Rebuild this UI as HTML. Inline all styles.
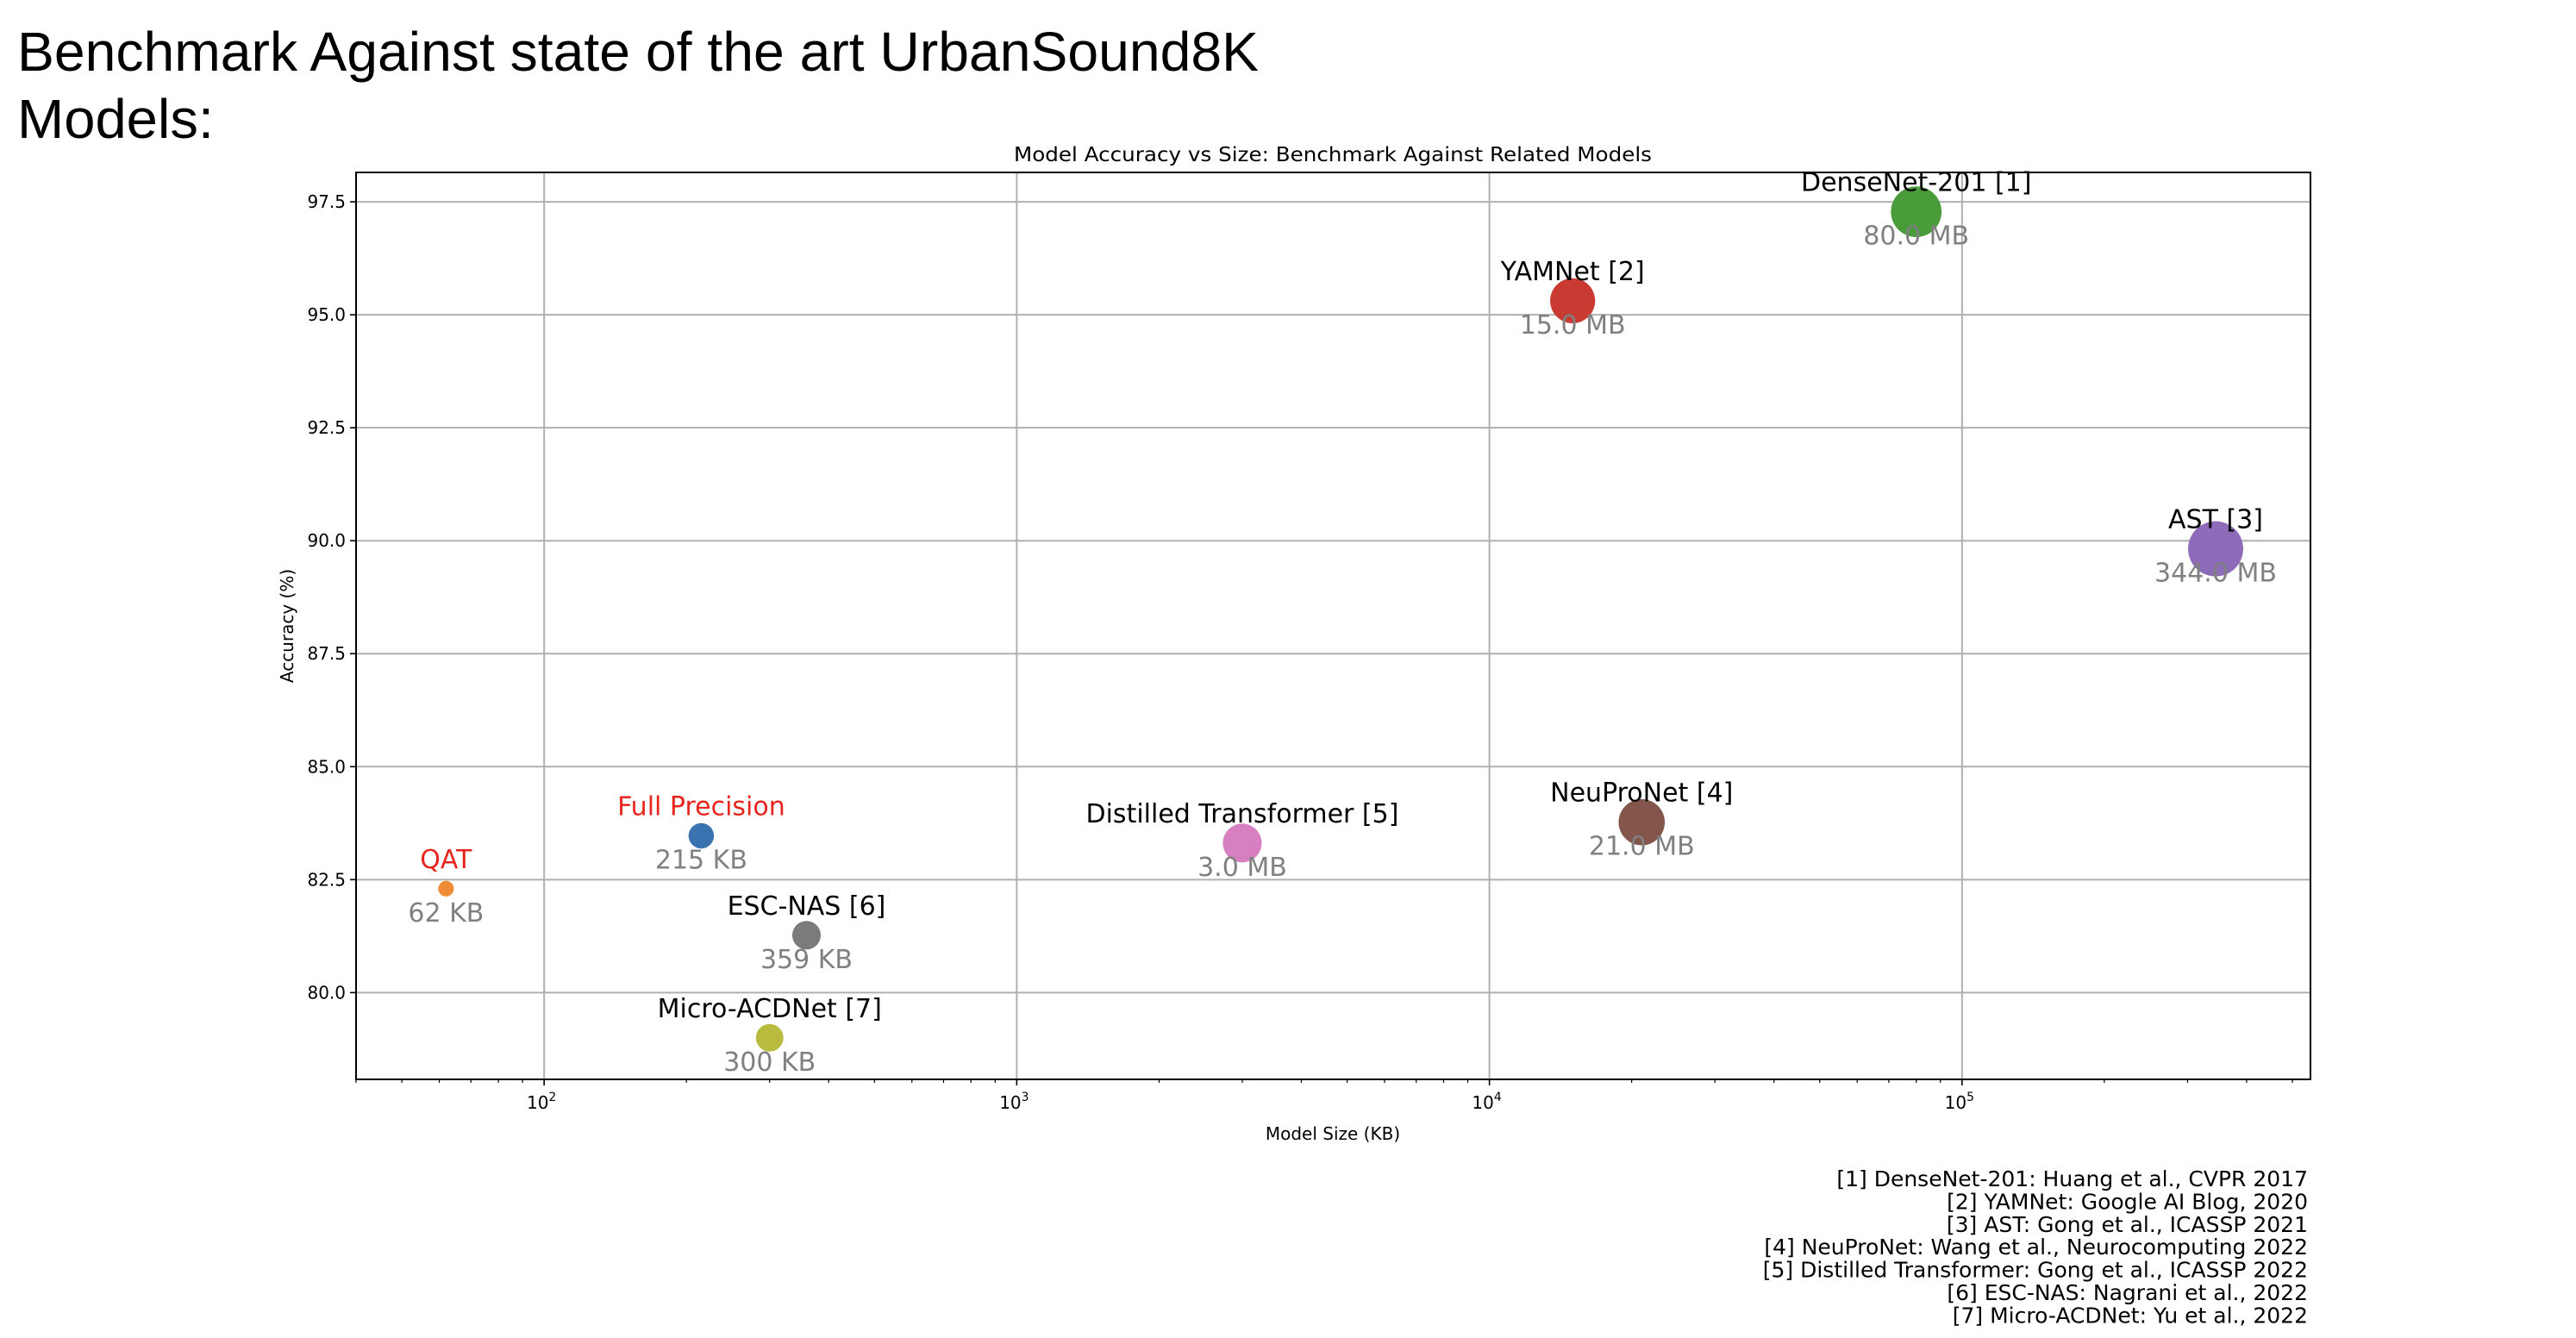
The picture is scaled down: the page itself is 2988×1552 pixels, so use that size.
<!DOCTYPE html>
<html><head><meta charset="utf-8"><style>
html,body{margin:0;padding:0;background:#fff;}
svg{display:block;}
text{font-family:"DejaVu Sans","Liberation Sans",sans-serif;}
</style></head><body>
<svg id="chart" width="2988" height="1552" viewBox="0 0 2988 1552" xmlns="http://www.w3.org/2000/svg">
<text x="20" y="82" style="font-family:'Liberation Sans',sans-serif" font-size="64" textLength="1440" lengthAdjust="spacingAndGlyphs">Benchmark Against state of the art UrbanSound8K</text>
<text x="20" y="160" style="font-family:'Liberation Sans',sans-serif" font-size="64" textLength="228" lengthAdjust="spacingAndGlyphs">Models:</text>
<text x="1546" y="187" font-size="23" text-anchor="middle" textLength="740" lengthAdjust="spacingAndGlyphs">Model Accuracy vs Size: Benchmark Against Related Models</text>
<g id="grid"></g>
<g id="ticks"></g>
<g id="marks"></g>
<rect x="413" y="200" width="2267" height="1052" fill="none" stroke="#000" stroke-width="2"/>
<text x="1546" y="1335" font-size="20" text-anchor="middle" transform="translate(0,-13)">Model Size (KB)</text>
<text transform="translate(340,726) rotate(-90)" font-size="20" text-anchor="middle">Accuracy (%)</text>
<g id="refs"></g>
</svg>
<script>
const names = ["QAT","Full Precision","ESC-NAS [6]","Micro-ACDNet [7]","Distilled Transformer [5]","YAMNet [2]","NeuProNet [4]","DenseNet-201 [1]","AST [3]"];
const sizesKB = [62,215,359,300,3000,15000,21000,80000,344000];
const accuracy = [82.3,83.47,81.27,79.0,83.31,95.31,83.77,97.28,89.82];
const sizeLabels = ["62 KB","215 KB","359 KB","300 KB","3.0 MB","15.0 MB","21.0 MB","80.0 MB","344.0 MB"];
const colors = ["#ef8a35","#3a73b0","#7b7b7b","#b9bb3e","#d77fc0","#c93a33","#84564b","#4a9b3a","#8e6bb8"];
const nameColors = ["#e8251d","#e8251d","#000","#000","#000","#000","#000","#000","#000"];
const yTicks = [80.0,82.5,85.0,87.5,90.0,92.5,95.0,97.5];
const xDecades = [2,3,4,5];
const refs = ["[1] DenseNet-201: Huang et al., CVPR 2017","[2] YAMNet: Google AI Blog, 2020","[3] AST: Gong et al., ICASSP 2021","[4] NeuProNet: Wang et al., Neurocomputing 2022","[5] Distilled Transformer: Gong et al., ICASSP 2022","[6] ESC-NAS: Nagrani et al., 2022","[7] Micro-ACDNet: Yu et al., 2022"];

const NS="http://www.w3.org/2000/svg";
const L=413,R=2680,T=200,B=1252;
const xMinLog=Math.log10(40.0), xMaxLog=Math.log10(546000);
const yMin=78.08, yMax=98.15;
function xs(v){return L+(Math.log10(v)-xMinLog)/(xMaxLog-xMinLog)*(R-L);}
function ys(v){return B-(v-yMin)/(yMax-yMin)*(B-T);}
function mk(tag,attrs,parent,txt){const e=document.createElementNS(NS,tag);for(const k in attrs)e.setAttribute(k,attrs[k]);if(txt!==undefined)e.textContent=txt;parent.appendChild(e);return e;}
const grid=document.getElementById('grid'),ticks=document.getElementById('ticks'),marks=document.getElementById('marks'),refsG=document.getElementById('refs');

yTicks.forEach(v=>{
  const y=ys(v);
  const g=mk('line',{x1:L,x2:R,y1:y,y2:y,stroke:'#b0b0b0','stroke-width':2},grid);
  
  
  mk('line',{x1:L-7,x2:L,y1:y,y2:y,stroke:'#000','stroke-width':1.6},ticks);
  const t=mk('text',{x:L-12,y:y+7,'font-size':20,'text-anchor':'end'},ticks,v.toFixed(1));
  
  
});
for(let d=1;d<=5;d++){
  for(let m=1;m<10;m++){
    const v=m*Math.pow(10,d); if(v<40||v>546000)continue;
    const x=xs(v);
    if(m===1){
      const g=mk('line',{x1:x,x2:x,y1:T,y2:B,stroke:'#b0b0b0','stroke-width':2},grid);
      
      
      mk('line',{x1:x,x2:x,y1:B,y2:B+7,stroke:'#000','stroke-width':1.6},ticks);
    } else {
      mk('line',{x1:x,x2:x,y1:B,y2:B+4,stroke:'#000','stroke-width':1.2},ticks);
    }
  }
}
xDecades.forEach(d=>{
  const x=xs(Math.pow(10,d));
  const t=mk('text',{x:x-3,y:B+34,'font-size':20,'text-anchor':'middle'},ticks);
  
  
  t.appendChild(document.createTextNode('10'));
  const s=document.createElementNS(NS,'tspan');s.setAttribute('font-size','14');s.setAttribute('dy','-9');s.textContent=String(d);t.appendChild(s);
});
names.forEach((n,i)=>{
  const cx=xs(sizesKB[i]), cy=ys(accuracy[i]);
  const r=Math.sqrt(Math.max(40,251*Math.log10(sizesKB[i])-368));
  const c=mk('circle',{cx:cx,cy:cy,r:r,fill:colors[i]},marks);
  
  
  const t1=mk('text',{x:cx,y:cy-24,'font-size':30,'text-anchor':'middle',fill:nameColors[i]},marks,n);
  
  
  const t2=mk('text',{x:cx,y:cy+38,'font-size':30,'text-anchor':'middle',fill:'#808080'},marks,sizeLabels[i]);
  
  
});
refs.forEach((s,i)=>{
  const t=mk('text',{x:2677,y:1376+i*26.4,'font-size':25,'text-anchor':'end'},refsG,s);
  
  
});
</script>
</body></html>
